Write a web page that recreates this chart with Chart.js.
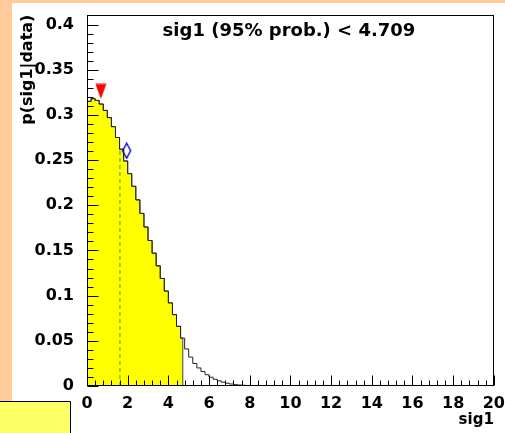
<!DOCTYPE html>
<html>
<head>
<meta charset="utf-8">
<script src="https://cdn.jsdelivr.net/npm/chart.js@4.4.1/dist/chart.umd.min.js"></script>
<style>
  html, body { margin: 0; padding: 0; background: #ffcc99; }
  canvas { display: block; }
</style>
</head>
<body>
<canvas id="posteriorChart" width="505" height="433"></canvas>
<script>
// Posterior histogram, 0.2 wide bins starting at sig1 = 0
const binWidth = 0.2;
const posterior = [
  0.315, 0.318, 0.316, 0.312, 0.305, 0.297, 0.287, 0.275, 0.262, 0.249,
  0.235, 0.221, 0.206, 0.191, 0.176, 0.161, 0.147, 0.133, 0.119, 0.105,
  0.092, 0.079, 0.066, 0.053, 0.041, 0.032, 0.025, 0.020, 0.016, 0.0125,
  0.0097, 0.0075, 0.0057, 0.0042, 0.0031, 0.0022, 0.0015, 0.0011, 0.0008, 0.0005,
  0.0002,
];
const cutValue = 4.709; // 95% limit
const medianValue = 1.62;
const modePoint = [{ x: 0.68, y: 0.326 }];
const meanPoint = [{ x: 1.95, y: 0.2604 }];
const xTicks = [0, 2, 4, 6, 8, 10, 12, 14, 16, 18, 20];
const yTicks = [0, 0.05, 0.1, 0.15, 0.2, 0.25, 0.3, 0.35, 0.4];
const xMinorStep = 0.4;
const yMinorStep = 0.01;
const xRange = [0, 20];
const yRange = [0, 0.411];
const titleText = "sig1 (95% prob.) < 4.709";

const fontFamily = "'DejaVu Sans', sans-serif";

// histogram outline points (stepped line)
const outline = posterior.map((p, i) => ({ x: i * binWidth, y: p }));
outline.push({ x: posterior.length * binWidth, y: 0 });

// filled part up to the cut
const filled = [];
posterior.forEach((p, i) => {
  if (i * binWidth < cutValue) filled.push({ x: i * binWidth, y: p });
});
const cutHeight = posterior[Math.floor(cutValue / binWidth)];
filled.push({ x: cutValue, y: cutHeight }, { x: cutValue, y: 0 });

const medianLine = [
  { x: medianValue, y: 0 },
  { x: medianValue, y: posterior[Math.floor(medianValue / binWidth)] },
];

// marker glyphs
function makeTriangle() {
  const c = document.createElement("canvas");
  c.width = 12;
  c.height = 16;
  const g = c.getContext("2d");
  g.fillStyle = "#ff0000";
  g.beginPath();
  g.moveTo(0.5, 0.5);
  g.lineTo(11.5, 0.5);
  g.lineTo(6, 15.5);
  g.closePath();
  g.fill();
  return c;
}
function makeDiamond() {
  const c = document.createElement("canvas");
  c.width = 11;
  c.height = 17;
  const g = c.getContext("2d");
  g.strokeStyle = "#0000cc";
  g.lineWidth = 1.4;
  g.beginPath();
  g.moveTo(5.5, 1);
  g.lineTo(9.5, 8.5);
  g.lineTo(5.5, 16);
  g.lineTo(1.5, 8.5);
  g.closePath();
  g.stroke();
  return c;
}

const rootFrame = {
  id: "rootFrame",
  beforeDraw(chart) {
    const ctx = chart.ctx;
    ctx.save();
    ctx.fillStyle = "#ffcc99";
    ctx.fillRect(0, 0, chart.width, chart.height);
    ctx.fillStyle = "#ffffff";
    ctx.fillRect(12, 3, chart.width - 12, chart.height - 3);
    // small pave in the corner
    ctx.fillStyle = "#ffff66";
    ctx.fillRect(0, 401, 70, 32);
    ctx.strokeStyle = "#000";
    ctx.lineWidth = 1;
    ctx.beginPath();
    ctx.moveTo(0, 401.5);
    ctx.lineTo(70.5, 401.5);
    ctx.lineTo(70.5, 433);
    ctx.stroke();
    ctx.restore();
  },
  afterDatasetsDraw(chart) {
    const ctx = chart.ctx;
    const { left, right, top, bottom } = chart.chartArea;
    const xs = chart.scales.x;
    const ys = chart.scales.y;
    ctx.save();
    ctx.strokeStyle = "#000";
    ctx.lineWidth = 1;
    const l = Math.round(left) + 0.5;
    const r = Math.round(right) - 0.5;
    const t = Math.round(top) + 0.5;
    const b = Math.round(bottom) - 0.5;
    ctx.strokeRect(l, t, r - l, b - t);

    ctx.beginPath();
    for (let k = 0; k * xMinorStep <= xRange[1] + 1e-9; k++) {
      const v = k * xMinorStep;
      const px = Math.round(xs.getPixelForValue(v)) + 0.5;
      const major = k % 5 === 0;
      ctx.moveTo(px, b);
      ctx.lineTo(px, b - (major ? 10 : 5));
    }
    for (let k = 0; k * yMinorStep <= 0.4 + 1e-9; k++) {
      const v = k * yMinorStep;
      const py = Math.round(ys.getPixelForValue(v)) + 0.5;
      const major = k % 5 === 0;
      ctx.moveTo(l, py);
      ctx.lineTo(l + (major ? 11 : 6), py);
    }
    ctx.stroke();

    ctx.fillStyle = "#000";
    ctx.font = "bold 18px " + fontFamily;
    ctx.textAlign = "center";
    ctx.textBaseline = "alphabetic";
    ctx.fillText(titleText, 289, 36);
    ctx.restore();
  },
};

const ctx = document.getElementById("posteriorChart").getContext("2d");

new Chart(ctx, {
  type: "line",
  data: {
    datasets: [
      {
        data: modePoint,
        showLine: false,
        pointStyle: makeTriangle(),
        order: 1,
      },
      {
        data: meanPoint,
        showLine: false,
        pointStyle: makeDiamond(),
        order: 1,
      },
      {
        data: medianLine,
        borderColor: "#33aa33",
        borderWidth: 1,
        borderDash: [4, 3],
        pointRadius: 0,
        order: 2,
      },
      {
        data: outline,
        stepped: true,
        borderColor: "#222",
        borderWidth: 1,
        pointRadius: 0,
        fill: false,
        order: 3,
      },
      {
        data: filled,
        stepped: true,
        borderColor: "#444",
        borderWidth: 1,
        backgroundColor: "#ffff00",
        pointRadius: 0,
        fill: "origin",
        order: 4,
      },
    ],
  },
  options: {
    responsive: false,
    animation: false,
    devicePixelRatio: 1,
    layout: { padding: { left: 0, top: 11, right: 11, bottom: 0 } },
    plugins: {
      legend: { display: false },
      tooltip: { enabled: false },
    },
    scales: {
      x: {
        type: "linear",
        min: xRange[0],
        max: xRange[1],
        afterBuildTicks: (s) => {
          s.ticks = xTicks.map((v) => ({ value: v }));
        },
        afterFit: (s) => {
          s.height = 47;
        },
        grid: { display: false },
        border: { display: false },
        ticks: {
          padding: 0,
          color: "#000",
          maxRotation: 0,
          autoSkip: false,
          font: { family: fontFamily, size: 16, weight: "bold" },
          callback: (v) => String(v),
        },
        title: {
          display: true,
          text: "sig1",
          align: "end",
          color: "#000",
          padding: { top: 0, bottom: 4 },
          font: { family: fontFamily, size: 15, weight: "bold" },
        },
      },
      y: {
        type: "linear",
        min: yRange[0],
        max: yRange[1],
        afterBuildTicks: (s) => {
          s.ticks = yTicks.map((v) => ({ value: v }));
        },
        afterFit: (s) => {
          s.width = 87;
        },
        grid: { display: false },
        border: { display: false },
        ticks: {
          padding: 5,
          color: "#000",
          autoSkip: false,
          font: { family: fontFamily, size: 16, weight: "bold" },
          callback: (v) => String(v),
        },
        title: {
          display: true,
          text: "p(sig1|data)",
          align: "end",
          color: "#000",
          padding: { top: 18, bottom: 0 },
          font: { family: fontFamily, size: 16, weight: "bold" },
        },
      },
    },
  },
  plugins: [rootFrame],
});
</script>
</body>
</html>
